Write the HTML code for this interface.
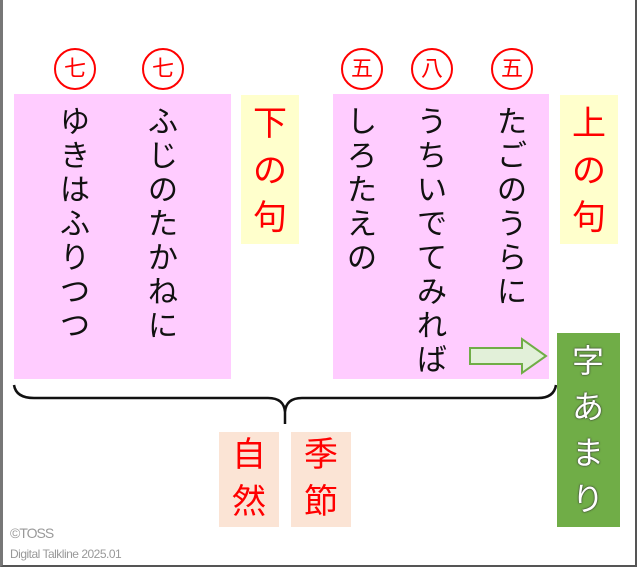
<!DOCTYPE html>
<html><head><meta charset="utf-8"><style>
body{margin:0;width:640px;height:573px;background:#fff;overflow:hidden;position:relative;font-family:"Liberation Sans","Noto Sans CJK JP",sans-serif}
.frame{position:absolute;left:0;top:0;width:632px;height:565px;border:2px solid #555;border-top:none;border-left:3px solid #777}
.b{position:absolute}
.pink{background:#ffccff}
.yel{background:#ffffcc}
.col{position:absolute;width:40px;text-align:center;font-size:30px;line-height:34px;color:#111;word-break:break-all}
.circ{position:absolute;width:38px;height:38px;border:2px solid #f00;border-radius:50%;color:#f00;font-size:22px;line-height:38px;text-align:center}
.red{color:#f00;font-size:34px;line-height:47px;position:absolute;width:50px;text-align:center;word-break:break-all}
.tag{background:#fbe4d5;position:absolute;width:60px;height:95px}
</style></head><body>
<div class="frame"></div>
<div class="b pink" style="left:14px;top:94px;width:217px;height:285px"></div>
<div class="b pink" style="left:333px;top:94px;width:216px;height:285px"></div>
<div class="b yel" style="left:241px;top:95px;width:58px;height:149px"></div>
<div class="b yel" style="left:560px;top:95px;width:58px;height:149px"></div>
<div class="red" style="left:245px;top:101px">下の句</div>
<div class="red" style="left:564px;top:101px">上の句</div>
<div class="circ" style="left:54px;top:48px">七</div>
<div class="circ" style="left:142px;top:48px">七</div>
<div class="circ" style="left:341px;top:48px">五</div>
<div class="circ" style="left:411px;top:48px">八</div>
<div class="circ" style="left:491px;top:48px">五</div>
<div class="col" style="left:55px;top:106px">ゆきはふりつつ</div>
<div class="col" style="left:143px;top:106px">ふじのたかねに</div>
<div class="col" style="left:342px;top:106px">しろたえの</div>
<div class="col" style="left:412px;top:106px">うちいでてみれば</div>
<div class="col" style="left:492px;top:106px">たごのうらに</div>
<svg class="b" style="left:0;top:0" width="640" height="573">
<path d="M14 385 Q16 398 34 398 L268 398 Q284 398 285 412 L285 424 M285 412 Q286 398 302 398 L538 398 Q554 398 556 385" fill="none" stroke="#111" stroke-width="2.5"/>
<path d="M470 348 L522 348 L522 339 L546 356 L522 373 L522 364 L470 364 Z" fill="#e2f0d9" stroke="#70ad47" stroke-width="2"/>
</svg>
<div class="b" style="left:557px;top:333px;width:63px;height:194px;background:#70ad47"></div>
<div class="red" style="left:563px;top:338px;color:#fff;font-size:32px;line-height:46px;text-shadow:0 0 2px #333,0 0 1px #333">字あまり</div>
<div class="tag" style="left:219px;top:432px"></div>
<div class="tag" style="left:291px;top:432px"></div>
<div class="red" style="left:224px;top:432px">自然</div>
<div class="red" style="left:296px;top:432px">季節</div>
<div class="b" style="left:10px;top:525px;font-size:14px;color:#999;text-shadow:0 0 1px #fff;letter-spacing:-1px">©TOSS</div>
<div class="b" style="left:10px;top:547px;font-size:12px;color:#999;letter-spacing:-0.5px">Digital Talkline 2025.01</div>
</body></html>
